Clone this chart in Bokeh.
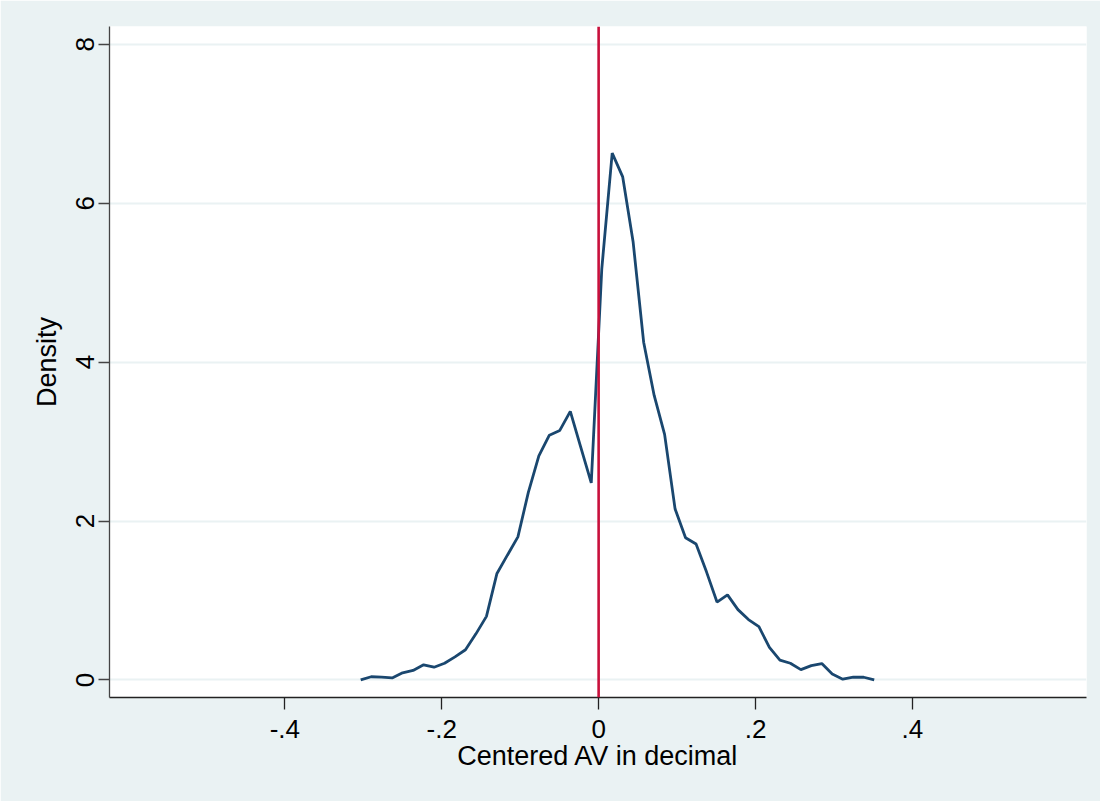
from bokeh.plotting import figure
from bokeh.models import Range1d, FixedTicker, Span, ColumnDataSource
from bokeh.embed import file_html
from bokeh.resources import INLINE

# Kernel density evaluation points (x) and density estimates (y)
av_centered = [-0.3033, -0.2899, -0.2766, -0.2632, -0.2499, -0.2365, -0.2231, -0.2098,
               -0.1964, -0.1831, -0.1697, -0.1564, -0.1430, -0.1296, -0.1163, -0.1029,
               -0.0896, -0.0762, -0.0628, -0.0495, -0.0361, -0.0228, -0.0094, 0.0040,
               0.0173, 0.0307, 0.0440, 0.0574, 0.0708, 0.0841, 0.0975, 0.1108,
               0.1242, 0.1375, 0.1509, 0.1643, 0.1776, 0.1910, 0.2043, 0.2177,
               0.2311, 0.2444, 0.2578, 0.2711, 0.2845, 0.2978, 0.3112, 0.3246,
               0.3379, 0.3513]
density = [0.00, 0.04, 0.035, 0.025, 0.09, 0.12, 0.19, 0.16, 0.21, 0.29,
           0.38, 0.58, 0.80, 1.34, 1.57, 1.80, 2.36, 2.82, 3.08, 3.14,
           3.38, 2.93, 2.48, 5.17, 6.63, 6.33, 5.51, 4.25, 3.58, 3.09,
           2.15, 1.79, 1.71, 1.36, 0.98, 1.07, 0.885, 0.76, 0.67, 0.41,
           0.25, 0.21, 0.13, 0.18, 0.206, 0.075, 0.01, 0.034, 0.034, 0.00]

x_ticks = [-0.4, -0.2, 0.0, 0.2, 0.4]
x_tick_labels = ["-.4", "-.2", "0", ".2", ".4"]
y_ticks = [0, 2, 4, 6, 8]
y_tick_labels = ["0", "2", "4", "6", "8"]
xline_at = 0.0

FONT = "Liberation Sans"
BG = "#eaf2f3"

p = figure(width=1100, height=801, output_backend="svg", toolbar_location=None,
           x_range=Range1d(-0.6235, 0.6219), y_range=Range1d(-0.221, 8.223),
           min_border_left=109, min_border_right=14, min_border_top=26, min_border_bottom=104)
p.border_fill_color = BG
p.background_fill_color = "white"
p.outline_line_color = None

src = ColumnDataSource(dict(x=av_centered, y=density))
p.line("x", "y", source=src, line_color="#1a476f", line_width=2.8)

p.add_layout(Span(location=xline_at, dimension="height", line_color="#c8103c", line_width=2.6))

# x axis
xa = p.xaxis[0]
xa.ticker = FixedTicker(ticks=x_ticks)
xa.major_label_overrides = {t: l for t, l in zip(x_ticks, x_tick_labels)}
xa.axis_label = "Centered AV in decimal"
xa.axis_label_text_font = FONT
xa.axis_label_text_font_style = "normal"
xa.axis_label_text_font_size = "27px"
xa.axis_label_text_color = "black"
xa.axis_label_standoff = 0
xa.major_label_text_font = FONT
xa.major_label_text_font_size = "26px"
xa.major_label_text_color = "black"
xa.major_label_standoff = 10
xa.major_tick_out = 12
xa.major_tick_in = 0
xa.minor_tick_out = 0
xa.minor_tick_in = 0
xa.axis_line_color = "#222222"
xa.axis_line_width = 1.3
xa.major_tick_line_color = "#222222"
xa.major_tick_line_width = 1.3

# y axis
ya = p.yaxis[0]
ya.ticker = FixedTicker(ticks=y_ticks)
ya.major_label_overrides = {t: l for t, l in zip(y_ticks, y_tick_labels)}
ya.axis_label = "Density"
ya.axis_label_text_font = FONT
ya.axis_label_text_font_style = "normal"
ya.axis_label_text_font_size = "27px"
ya.axis_label_text_color = "black"
ya.axis_label_standoff = 12
ya.major_label_text_font = FONT
ya.major_label_text_font_size = "26px"
ya.major_label_text_color = "black"
ya.major_label_orientation = "vertical"
ya.major_label_standoff = 4
ya.major_tick_out = 11
ya.major_tick_in = 0
ya.minor_tick_out = 0
ya.minor_tick_in = 0
ya.axis_line_color = "#444444"
ya.axis_line_width = 1.3
ya.major_tick_line_color = "#444444"
ya.major_tick_line_width = 1.3

p.xgrid.grid_line_color = None
p.ygrid.grid_line_color = BG
p.ygrid.grid_line_width = 2

open("out.html", "w").write(file_html(p, INLINE))
